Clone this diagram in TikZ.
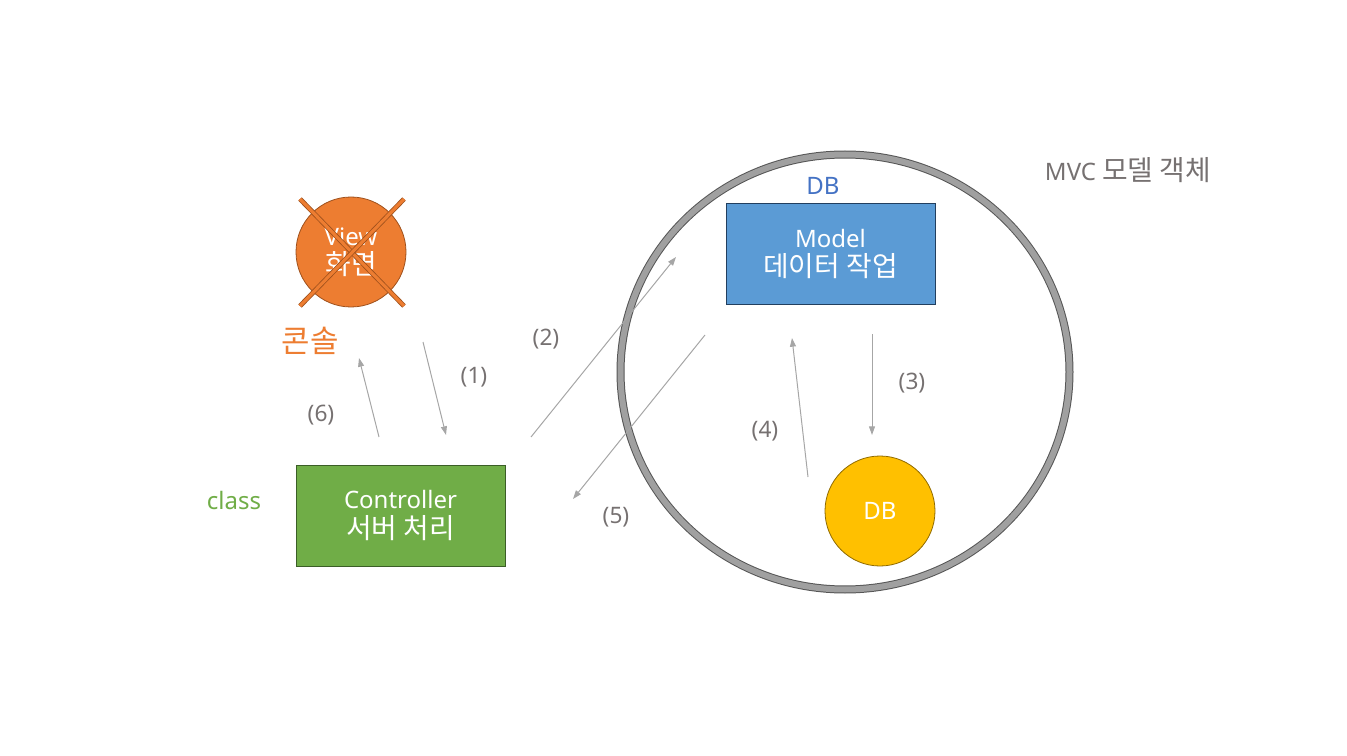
\documentclass[tikz,border=0pt]{standalone}
\usepackage{fontspec}
\setmainfont{Noto Sans}
\newfontfamily\krfont{Noto Sans CJK KR}[Scale=1.16]
\newcommand{\kr}[1]{{\krfont #1}}
\usetikzlibrary{arrows.meta}

\definecolor{viewfill}{HTML}{ED7D31}
\definecolor{viewedge}{HTML}{9E501C}
\definecolor{ctrlfill}{HTML}{70AD47}
\definecolor{ctrledge}{HTML}{3B5E27}
\definecolor{modelfill}{HTML}{5B9BD5}
\definecolor{modeledge}{HTML}{223F5F}
\definecolor{dbfill}{HTML}{FFC000}
\definecolor{dbedge}{HTML}{8F6A00}
\definecolor{ringfill}{HTML}{A0A0A0}
\definecolor{ringedge}{HTML}{555555}
\definecolor{arrowgray}{HTML}{A6A6A6}
\definecolor{labelgray}{HTML}{767171}
\definecolor{dbblue}{HTML}{4472C4}

\tikzset{
  boxtext/.style={text=white, align=center, font=\fontsize{18}{22}\selectfont},
  roundnode/.style={boxtext, circle, inner sep=0pt, minimum size=82.5pt, line width=0.6pt},
  squarenode/.style={boxtext, rectangle, inner sep=0pt, minimum width=156.75pt, minimum height=75.75pt, line width=0.75pt},
  flow/.style={arrowgray, line width=0.75pt, -{Triangle[length=6.5pt,width=4.5pt]}},
  steplabel/.style={text=labelgray, font=\fontsize{17}{20}\selectfont},
  sidelabel/.style={font=\fontsize{18}{22}\selectfont},
  crossbar/.style={draw=viewedge, line width=0.6pt, double=viewfill, double distance=2.4pt}
}

\begin{document}
\begin{tikzpicture}[x=0.75pt, y=-0.75pt]
  \useasboundingbox (0,0) rectangle (1347,756);

  % model object ring
  \draw[draw=ringedge, line width=0.75pt, double=ringfill, double distance=4.5pt]
    (845,372) ellipse [x radius=224.5, y radius=217.5];
  \node[sidelabel, text=labelgray] (mvc) at (1128,170) {MVC \kr{모델 객체}};

  % view
  \node[roundnode, fill=viewfill, draw=viewedge] (view) at (351,252) {View\\\kr{화면}};
  \draw[crossbar] (300,199) -- (404,306);
  \draw[crossbar] (404,199) -- (300,306);
  \node[sidelabel, text=viewfill, font=\fontsize{20}{24}\selectfont] (console) at (310,341) {\kr{콘솔}};

  % controller
  \node[squarenode, fill=ctrlfill, draw=ctrledge] (ctrl) at (400.5,515.5) {Controller\\\kr{서버 처리}};
  \node[sidelabel, text=ctrlfill] (class) at (234,500) {class};

  % model
  \node[squarenode, fill=modelfill, draw=modeledge] (model) at (830.5,254) {Model\\\kr{데이터 작업}};
  \node[sidelabel, text=dbblue] (dbtag) at (823,186) {DB};

  % database
  \node[roundnode, fill=dbfill, draw=dbedge] (db) at (880,511) {DB};

  % arrow ends
  \coordinate (a1s) at (423,342);  \coordinate (a1e) at (446,435);
  \coordinate (a2s) at (531,437);  \coordinate (a2e) at (676,257);
  \coordinate (a3s) at (872,334);  \coordinate (a3e) at (872,435);
  \coordinate (a4s) at (808,477);  \coordinate (a4e) at (792,338);
  \coordinate (a5s) at (705,335);  \coordinate (a5e) at (573,499);
  \coordinate (a6s) at (379,437);  \coordinate (a6e) at (359,358);

  \draw[flow] (a1s) -- (a1e);
  \draw[flow] (a2s) -- (a2e);
  \draw[flow] (a3s) -- (a3e);
  \draw[flow] (a4s) -- (a4e);
  \draw[flow] (a5s) -- (a5e);
  \draw[flow] (a6s) -- (a6e);

  \node[steplabel] (l1) at (474,377) {(1)};
  \node[steplabel] (l2) at (546,339) {(2)};
  \node[steplabel] (l3) at (912,383) {(3)};
  \node[steplabel] (l4) at (765,431) {(4)};
  \node[steplabel] (l5) at (616,517) {(5)};
  \node[steplabel] (l6) at (321,415) {(6)};
\end{tikzpicture}
\end{document}
